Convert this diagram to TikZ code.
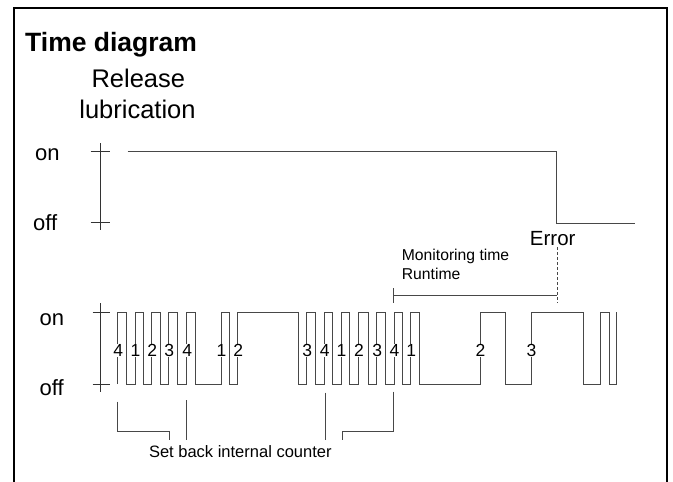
\documentclass[tikz,border=0pt]{standalone}
\usepackage{fontspec}
\setmainfont{Liberation Sans}
\begin{document}
\begin{tikzpicture}[x=1pt,y=-1pt,
  sig/.style={draw=black!72,line width=0.9pt},
  axisline/.style={draw=black!80,line width=0.9pt},
  frameline/.style={draw=black,line width=2pt},
  lbl/.style={inner sep=0pt,text=black},
  digit/.style={fill=white,inner xsep=0pt,inner ysep=0.6pt,font=\fontsize{17.5}{20}\selectfont}]
\useasboundingbox (0,0) rectangle (673,482);
\fill[white] (0,0) rectangle (673,482);
% frame
\draw[frameline] (14,482) -- (14,7.5) -- (667,7.5) -- (667,482);
% texts
\node[lbl,anchor=base west,font=\fontsize{26.5}{30}\selectfont\bfseries] (title) at (25,51.7) {Time diagram};
\node[lbl,anchor=base,font=\fontsize{25.5}{28}\selectfont] (rel) at (138.3,87.3) {Release};
\node[lbl,anchor=base,font=\fontsize{25.5}{28}\selectfont] (lub) at (137.5,118.3) {lubrication};
\node[lbl,anchor=base west,font=\fontsize{22}{26}\selectfont] (on1) at (35,160) {on};
\node[lbl,anchor=base west,font=\fontsize{22}{26}\selectfont] (off1) at (33,230) {off};
\node[lbl,anchor=base west,font=\fontsize{22}{26}\selectfont] (on2) at (39.5,325) {on};
\node[lbl,anchor=base west,font=\fontsize{22}{26}\selectfont] (off2) at (39.5,395) {off};
\node[lbl,anchor=base,font=\fontsize{20.5}{24}\selectfont] (err) at (552.7,245) {Error};
\node[lbl,anchor=base west,font=\fontsize{15.7}{18}\selectfont] (mon) at (401.7,260.7) {Monitoring time};
\node[lbl,anchor=base west,font=\fontsize{15.7}{18}\selectfont] (run) at (401.7,279.3) {Runtime};
\node[lbl,anchor=base,font=\fontsize{16.5}{20}\selectfont] (sbc) at (240.3,457.7) {Set back internal counter};
% upper axis
\draw[axisline] (100.5,143) -- (100.5,230);
\draw[axisline] (90.7,151.8) -- (110,151.8);
\draw[axisline] (90.7,222.7) -- (110,222.7);
% upper signal
\draw[sig] (127.7,151.8) -- (556.7,151.8) -- (556.7,223.3) -- (635,223.3);
% monitoring bracket
\draw[sig,dashed,dash pattern=on 3pt off 2pt] (557.3,247) -- (557.3,303.3);
\draw[sig] (393.3,288.3) -- (393.3,303.3);
\draw[sig] (393.3,295) -- (557.3,295);
% lower axis
\draw[axisline] (100.5,303) -- (100.5,391.7);
\draw[axisline] (92.7,312) -- (110,312);
\draw[axisline] (92.7,384) -- (110,384);
% lower signal
\draw[sig] (117.7,384) -- (117.7,312) -- (126.7,312) -- (126.7,384) -- (135,384) -- (135,312) -- (143.3,312) -- (143.3,384) -- (151.7,384) -- (151.7,312) -- (160,312) -- (160,384) -- (168.7,384) -- (168.7,312) -- (177.3,312) -- (177.3,384) -- (186.7,384) -- (186.7,312) -- (195,312) -- (195,384) -- (221,384) -- (221,312) -- (229.3,312) -- (229.3,384) -- (237.7,384) -- (237.7,312) -- (298.4,312) -- (298.4,384) -- (306.7,384) -- (306.7,312) -- (315,312) -- (315,384) -- (324.3,384) -- (324.3,312) -- (332.7,312) -- (332.7,384) -- (341,384) -- (341,312) -- (349.3,312) -- (349.3,384) -- (358.5,384) -- (358.5,312) -- (368.3,312) -- (368.3,384) -- (376.7,384) -- (376.7,312) -- (385,312) -- (385,384) -- (394,384) -- (394,312) -- (402.3,312) -- (402.3,384) -- (410.7,384) -- (410.7,312) -- (419,312) -- (419,384) -- (480,384) -- (480,312) -- (505.7,312) -- (505.7,384) -- (531,384) -- (531,312) -- (583.3,312) -- (583.3,384) -- (600.7,384) -- (600.7,312) -- (609.3,312) -- (609.3,384) -- (616.7,384) -- (616.7,312);
% digits
\foreach \x/\d [count=\i] in {117.7/4,135/1,151.7/2,168.7/3,186.7/4,221/1,237.7/2,306.7/3,324.3/4,341/1,358.5/2,376.7/3,394/4,410.7/1,480/2,531/3}
  \node[digit] (d\i) at (\x+0.5,350.5) {\d};
% counter brackets
\draw[sig] (117.7,401.7) -- (117.7,431.7) -- (169.3,431.7) -- (169.3,440);
\draw[sig] (186.7,400) -- (186.7,440);
\draw[sig] (325,392.7) -- (325,440);
\draw[sig] (393.3,391.7) -- (393.3,431.7) -- (342.3,431.7) -- (342.3,440);
\end{tikzpicture}
\end{document}
